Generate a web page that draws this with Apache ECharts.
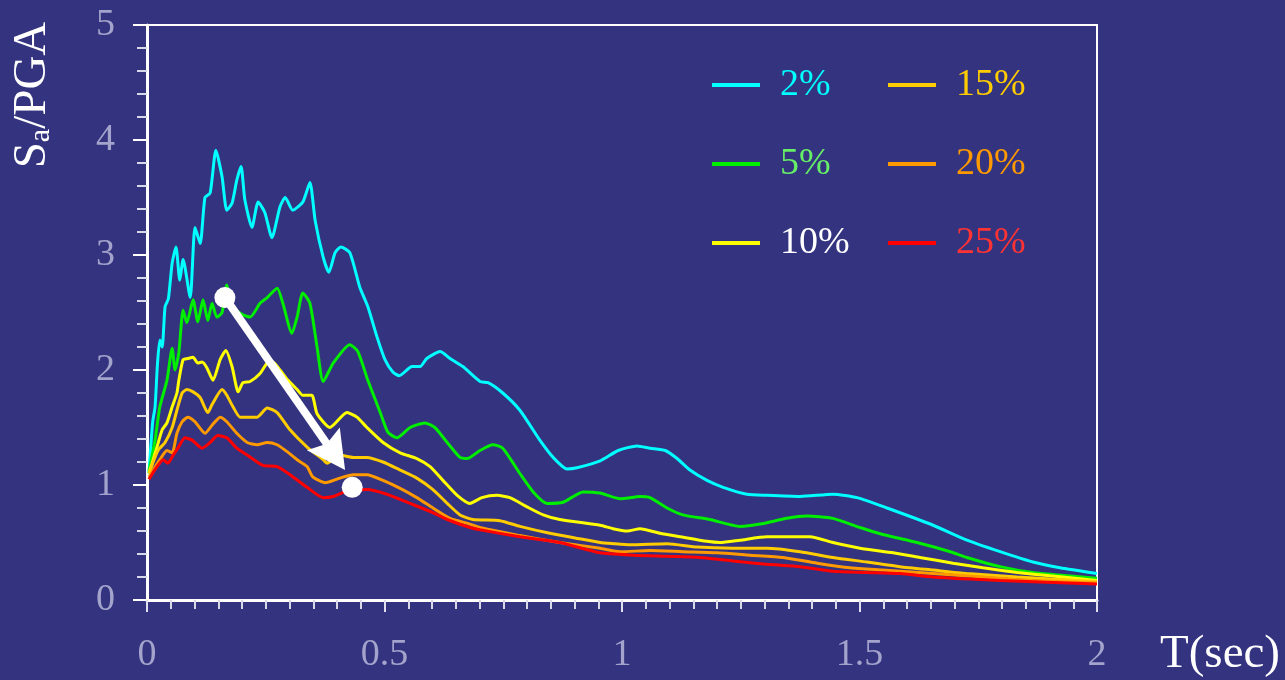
<!DOCTYPE html>
<html>
<head>
<meta charset="utf-8">
<script src="https://cdn.jsdelivr.net/npm/echarts@6/dist/echarts.min.js"></script>
<style>
  html, body { margin: 0; padding: 0; background: #333380; }
  #chart { width: 1285px; height: 680px; }
</style>
</head>
<body>
<div id="chart"></div>
<script>
// Normalised response spectra Sa/PGA vs period T for six damping ratios.
// Each pair is [T (sec), Sa/PGA].
const seriesNames = ['2%', '5%', '10%', '15%', '20%', '25%'];

const damp2 = [
  [0.004,1.10],[0.006,1.22],[0.012,1.55],[0.017,1.68],[0.022,2.05],[0.027,2.26],[0.032,2.20],
  [0.038,2.55],[0.045,2.62],[0.053,2.93],[0.061,3.07],
  [0.069,2.78],[0.076,2.96],[0.091,2.63],[0.101,3.24],[0.112,3.10],[0.122,3.50],[0.133,3.54],
  [0.145,3.91],[0.158,3.68],[0.168,3.39],[0.179,3.45],[0.189,3.65],[0.198,3.77],[0.206,3.48],
  [0.221,3.24],[0.234,3.46],[0.248,3.37],[0.263,3.15],[0.280,3.42],[0.291,3.50],[0.307,3.39],
  [0.328,3.46],[0.343,3.63],[0.354,3.30],[0.371,2.98],[0.383,2.85],[0.396,3.02],[0.408,3.07],
  [0.427,3.02],[0.448,2.72],[0.465,2.55],[0.484,2.29],[0.501,2.09],[0.518,1.98],[0.531,1.95],
  [0.558,2.03],[0.575,2.03],[0.589,2.10],[0.617,2.16],[0.638,2.10],[0.665,2.03],[0.701,1.90],
  [0.718,1.89],[0.749,1.80],[0.785,1.65],[0.827,1.39],[0.855,1.24],[0.884,1.14],[0.905,1.15],
  [0.954,1.21],[0.992,1.30],[1.032,1.34],[1.059,1.32],[1.091,1.30],[1.116,1.23],[1.143,1.13],
  [1.179,1.04],[1.213,0.98],[1.263,0.92],[1.305,0.91],[1.375,0.90],[1.444,0.92],[1.495,0.89],
  [1.558,0.80],[1.655,0.65],[1.726,0.52],[1.796,0.42],[1.865,0.33],[1.922,0.28],[2.000,0.23]
];

const damp5 = [
  [0.004,1.12],[0.017,1.39],[0.027,1.68],[0.042,1.91],[0.053,2.19],[0.059,2.00],[0.067,2.15],
  [0.076,2.52],[0.084,2.41],[0.097,2.61],[0.107,2.42],[0.118,2.61],[0.128,2.43],[0.137,2.58],
  [0.147,2.46],[0.158,2.50],[0.168,2.74],[0.179,2.55],[0.202,2.48],[0.217,2.46],[0.238,2.58],
  [0.253,2.63],[0.274,2.71],[0.286,2.58],[0.305,2.32],[0.316,2.46],[0.328,2.67],[0.343,2.58],
  [0.358,2.20],[0.371,1.90],[0.392,2.06],[0.427,2.22],[0.444,2.16],[0.465,1.91],[0.491,1.63],
  [0.507,1.46],[0.526,1.41],[0.554,1.50],[0.585,1.54],[0.606,1.50],[0.632,1.37],[0.659,1.24],
  [0.674,1.23],[0.701,1.30],[0.728,1.35],[0.749,1.32],[0.785,1.10],[0.813,0.94],[0.842,0.84],
  [0.876,0.85],[0.918,0.94],[0.954,0.93],[0.996,0.88],[1.038,0.90],[1.059,0.89],[1.095,0.80],
  [1.128,0.74],[1.185,0.70],[1.248,0.64],[1.291,0.66],[1.347,0.71],[1.389,0.73],[1.444,0.71],
  [1.501,0.63],[1.549,0.57],[1.621,0.50],[1.691,0.42],[1.726,0.37],[1.796,0.29],[1.865,0.24],
  [2.000,0.19]
];

const damp10 = [
  [0.004,1.10],[0.021,1.33],[0.032,1.48],[0.042,1.54],[0.053,1.68],[0.063,1.80],[0.067,1.91],
  [0.076,2.09],[0.086,2.10],[0.097,2.11],[0.107,2.06],[0.116,2.07],[0.126,2.02],[0.139,1.91],
  [0.154,2.09],[0.166,2.17],[0.179,2.03],[0.192,1.81],[0.202,1.89],[0.217,1.90],[0.238,1.97],
  [0.253,2.06],[0.265,2.07],[0.280,2.00],[0.297,1.91],[0.316,1.83],[0.328,1.78],[0.347,1.78],
  [0.358,1.62],[0.385,1.50],[0.421,1.63],[0.442,1.59],[0.463,1.50],[0.497,1.37],[0.533,1.28],
  [0.568,1.23],[0.596,1.16],[0.623,1.04],[0.653,0.91],[0.680,0.84],[0.705,0.89],[0.737,0.91],
  [0.764,0.89],[0.800,0.81],[0.834,0.74],[0.869,0.70],[0.954,0.65],[0.981,0.62],[1.011,0.60],
  [1.038,0.62],[1.080,0.58],[1.122,0.55],[1.179,0.51],[1.206,0.50],[1.248,0.52],[1.305,0.55],
  [1.347,0.55],[1.396,0.55],[1.444,0.50],[1.501,0.45],[1.571,0.41],[1.627,0.37],[1.697,0.32],
  [1.760,0.28],[1.832,0.24],[1.901,0.21],[2.000,0.17]
];

const damp15 = [
  [0.004,1.10],[0.023,1.30],[0.038,1.37],[0.053,1.50],[0.063,1.65],[0.074,1.80],[0.084,1.83],
  [0.097,1.81],[0.112,1.76],[0.128,1.63],[0.137,1.70],[0.158,1.83],[0.168,1.78],[0.181,1.68],
  [0.196,1.59],[0.217,1.59],[0.232,1.59],[0.253,1.67],[0.274,1.63],[0.301,1.48],[0.337,1.33],
  [0.371,1.22],[0.379,1.19],[0.406,1.26],[0.434,1.24],[0.463,1.24],[0.497,1.20],[0.533,1.13],
  [0.568,1.06],[0.602,0.96],[0.632,0.84],[0.659,0.74],[0.686,0.70],[0.743,0.69],[0.785,0.64],
  [0.848,0.58],[0.901,0.54],[0.954,0.50],[0.981,0.49],[1.017,0.48],[1.095,0.49],[1.158,0.46],
  [1.234,0.45],[1.305,0.45],[1.375,0.42],[1.444,0.37],[1.516,0.33],[1.585,0.29],[1.655,0.26],
  [1.726,0.23],[1.832,0.20],[2.000,0.16]
];

const damp20 = [
  [0.004,1.07],[0.027,1.22],[0.042,1.30],[0.053,1.28],[0.063,1.45],[0.074,1.55],[0.086,1.59],
  [0.101,1.55],[0.122,1.45],[0.137,1.52],[0.154,1.59],[0.168,1.55],[0.189,1.45],[0.211,1.37],
  [0.232,1.35],[0.253,1.37],[0.274,1.35],[0.295,1.29],[0.316,1.22],[0.337,1.16],[0.349,1.07],
  [0.375,1.02],[0.406,1.06],[0.434,1.09],[0.463,1.09],[0.497,1.04],[0.533,0.97],[0.568,0.89],
  [0.602,0.80],[0.638,0.71],[0.680,0.66],[0.701,0.63],[0.785,0.56],[0.869,0.50],[0.954,0.45],
  [0.996,0.42],[1.059,0.43],[1.128,0.42],[1.200,0.41],[1.269,0.39],[1.339,0.37],[1.411,0.32],
  [1.480,0.28],[1.549,0.26],[1.655,0.23],[1.760,0.20],[1.865,0.17],[2.000,0.15]
];

const damp25 = [
  [0.004,1.05],[0.021,1.16],[0.034,1.22],[0.044,1.19],[0.055,1.26],[0.065,1.32],[0.080,1.41],
  [0.095,1.39],[0.116,1.32],[0.133,1.37],[0.149,1.43],[0.168,1.41],[0.189,1.32],[0.211,1.26],
  [0.244,1.17],[0.274,1.16],[0.301,1.09],[0.337,0.98],[0.371,0.89],[0.392,0.90],[0.417,0.94],
  [0.463,0.96],[0.505,0.92],[0.554,0.84],[0.602,0.76],[0.632,0.70],[0.680,0.63],[0.701,0.61],
  [0.785,0.55],[0.869,0.50],[0.954,0.41],[1.023,0.39],[1.095,0.38],[1.164,0.37],[1.234,0.34],
  [1.305,0.31],[1.375,0.29],[1.444,0.25],[1.516,0.24],[1.585,0.23],[1.655,0.20],[1.796,0.17],
  [2.000,0.14]
];

const seriesData = [damp2, damp5, damp10, damp15, damp20, damp25];

// Arrow annotation (from the 5% peak region down to the 25% curve), in data units.
const arrowFrom = [0.164, 2.63];
const arrowTip = [0.417, 1.13];
const arrowDots = [[0.164, 2.63], [0.432, 0.98]];

const xTicks = [0, 0.5, 1, 1.5, 2];

const lineColors = ['#00ffff', '#00ee00', '#ffff00', '#ffcc00', '#ff9900', '#ff0000'];
const legendTextColors = ['#00ffff', '#66ee66', '#ffffff', '#ffcc00', '#ff9900', '#ff3333'];

const FONT = '"Liberation Serif", "Times New Roman", serif';
const tickLabelColor = '#a3a3cc';

const chart = echarts.init(document.getElementById('chart'), null, { renderer: 'canvas' });

const lineSeries = seriesNames.map((name, i) => ({
  name: name,
  type: 'line',
  data: seriesData[i],
  showSymbol: false,
  symbol: 'none',
  smooth: 0.2,
  lineStyle: { color: lineColors[i], width: 3 },
  itemStyle: { color: lineColors[i] },
  z: 3 + i,
  silent: true
}));

function legendBlock(names, left) {
  return {
    orient: 'vertical',
    left: left,
    top: 61,
    itemGap: 41,
    itemWidth: 48,
    itemHeight: 4,
    icon: 'rect',
    selectedMode: false,
    data: names.map(n => ({
      name: n,
      textStyle: { color: legendTextColors[seriesNames.indexOf(n)] }
    })),
    textStyle: {
      fontFamily: FONT,
      fontSize: 38,
      padding: [0, 0, 0, 15]
    }
  };
}

const option = {
  backgroundColor: '#333380',
  animation: false,
  grid: {
    left: 147, right: 188, top: 25, bottom: 80,
    containLabel: false,
    outerBoundsMode: 'none',
    show: true,
    borderColor: '#ffffff',
    borderWidth: 2,
    backgroundColor: 'transparent'
  },
  legend: [
    legendBlock(['2%', '5%', '10%'], 707),
    legendBlock(['15%', '20%', '25%'], 883)
  ],
  xAxis: {
    type: 'value',
    min: 0, max: 2, interval: 0.5,
    axisLine: { show: true, onZero: false, lineStyle: { color: '#ffffff', width: 3 } },
    axisTick: { show: true, inside: false, length: 12, lineStyle: { color: '#e0e0f0', width: 2 } },
    minorTick: { show: true, splitNumber: 10, length: 9, lineStyle: { color: '#d8d8e8', width: 2 } },
    splitLine: { show: false },
    minorSplitLine: { show: false },
    axisLabel: {
      margin: 36,
      color: tickLabelColor,
      fontFamily: FONT,
      fontSize: 38,
      formatter: v => (xTicks.indexOf(v) >= 0 ? String(v) : '')
    }
  },
  yAxis: {
    type: 'value',
    min: 0, max: 5, interval: 1,
    axisLine: { show: true, onZero: false, lineStyle: { color: '#ffffff', width: 3 } },
    axisTick: { show: true, inside: false, length: 14, lineStyle: { color: '#ffffff', width: 2 } },
    minorTick: { show: true, splitNumber: 5, length: 10, lineStyle: { color: '#d8d8e8', width: 2 } },
    splitLine: { show: false },
    minorSplitLine: { show: false },
    axisLabel: {
      margin: 32,
      color: tickLabelColor,
      fontFamily: FONT,
      fontSize: 38
    }
  },
  graphic: [
    {
      type: 'text',
      x: 1220, y: 655,
      style: {
        text: 'T(sec)',
        fill: '#ffffff',
        font: '47px ' + FONT,
        align: 'center',
        verticalAlign: 'middle'
      }
    },
    {
      type: 'text',
      x: 33, y: 95,
      rotation: Math.PI / 2,
      style: {
        text: '{m|S}{sub|a}{m|/PGA}',
        fill: '#ffffff',
        align: 'center',
        verticalAlign: 'middle',
        rich: {
          m: { fontFamily: FONT, fontSize: 47, fill: '#ffffff', color: '#ffffff' },
          sub: { fontFamily: FONT, fontSize: 30, fill: '#ffffff', color: '#ffffff', padding: [16, 0, 0, 0] }
        }
      }
    }
  ],
  series: lineSeries.concat([
    {
      name: 'arrow',
      type: 'custom',
      silent: true,
      z: 20,
      clip: false,
      encode: { x: [0, 2], y: [1, 3] },
      data: [[arrowFrom[0], arrowFrom[1], arrowTip[0], arrowTip[1]]],
      renderItem: function (params, api) {
        const p0 = api.coord([api.value(0), api.value(1)]);
        const p1 = api.coord([api.value(2), api.value(3)]);
        const dx = p1[0] - p0[0], dy = p1[1] - p0[1];
        const len = Math.sqrt(dx * dx + dy * dy);
        const ux = dx / len, uy = dy / len;
        const nx = -uy, ny = ux;
        const headLen = 38, headHalf = 20, notch = 6;
        const bx = p1[0] - ux * headLen, by = p1[1] - uy * headLen;
        const nxp = bx + ux * notch, nyp = by + uy * notch;
        return {
          type: 'group',
          children: [
            {
              type: 'line',
              shape: { x1: p0[0], y1: p0[1], x2: nxp, y2: nyp },
              style: { stroke: '#ffffff', lineWidth: 8 }
            },
            {
              type: 'polygon',
              shape: {
                points: [
                  [p1[0], p1[1]],
                  [bx + nx * headHalf, by + ny * headHalf],
                  [nxp, nyp],
                  [bx - nx * headHalf, by - ny * headHalf]
                ]
              },
              style: { fill: '#ffffff' }
            }
          ]
        };
      }
    },
    {
      name: 'dots',
      type: 'scatter',
      silent: true,
      z: 21,
      symbol: 'circle',
      symbolSize: 21,
      itemStyle: { color: '#ffffff', opacity: 1 },
      data: arrowDots
    }
  ])
};

chart.setOption(option);
</script>
</body>
</html>
